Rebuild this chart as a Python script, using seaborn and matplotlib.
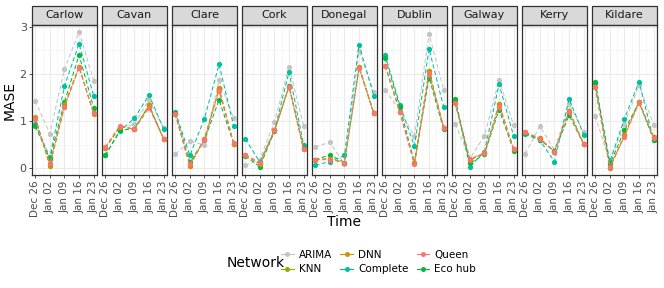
import pandas as pd
import numpy as np
import matplotlib
matplotlib.use("Agg")
import matplotlib.pyplot as plt
from matplotlib.lines import Line2D
from matplotlib.patches import Rectangle
import seaborn as sns

regions = ["Carlow", "Cavan", "Clare", "Cork", "Donegal", "Dublin", "Galway", "Kerry", "Kildare"]
dates = ["2022-12-26", "2023-01-02", "2023-01-09", "2023-01-16", "2023-01-23"]
date_labels = ["Dec 26", "Jan 02", "Jan 09", "Jan 16", "Jan 23"]

# MASE per region (rows) and week (columns)
arima = [
    [1.43, 0.73, 2.10, 2.89, 1.85],
    [0.42, 0.85, 0.93, 1.45, 0.85],
    [0.30, 0.57, 0.49, 1.87, 1.06],
    [0.06, 0.18, 0.98, 2.15, 0.90],
    [0.45, 0.55, 0.09, 2.48, 1.62],
    [1.66, 1.22, 0.68, 2.85, 1.66],
    [0.94, 0.20, 0.69, 1.87, 0.91],
    [0.31, 0.89, 0.38, 1.35, 0.77],
    [1.10, 0.14, 0.94, 1.76, 0.92],
]
knn = [
    [1.07, 0.05, 1.35, 2.15, 1.16],
    [0.42, 0.88, 0.83, 1.33, 0.61],
    [1.15, 0.05, 0.62, 1.69, 0.52],
    [0.28, 0.09, 0.80, 1.73, 0.40],
    [0.18, 0.20, 0.12, 2.15, 1.17],
    [2.17, 1.19, 0.10, 2.06, 0.86],
    [1.38, 0.17, 0.32, 1.36, 0.40],
    [0.76, 0.63, 0.35, 1.22, 0.51],
    [1.73, 0.00, 0.70, 1.41, 0.66],
]
dnn = [
    [1.08, 0.06, 1.30, 2.15, 1.15],
    [0.42, 0.88, 0.83, 1.33, 0.61],
    [1.15, 0.05, 0.62, 1.69, 0.52],
    [0.28, 0.09, 0.80, 1.73, 0.40],
    [0.18, 0.20, 0.12, 2.15, 1.17],
    [2.17, 1.19, 0.10, 2.06, 0.86],
    [1.38, 0.17, 0.32, 1.36, 0.40],
    [0.76, 0.63, 0.35, 1.22, 0.51],
    [1.73, 0.00, 0.70, 1.41, 0.66],
]
complete = [
    [0.94, 0.23, 1.74, 2.64, 1.53],
    [0.27, 0.78, 1.06, 1.55, 0.83],
    [1.20, 0.27, 1.05, 2.20, 0.89],
    [0.62, 0.13, 0.80, 2.04, 0.49],
    [0.06, 0.14, 0.27, 2.62, 1.54],
    [2.40, 1.34, 0.47, 2.53, 1.29],
    [1.42, 0.03, 0.35, 1.78, 0.68],
    [0.73, 0.59, 0.14, 1.47, 0.71],
    [1.80, 0.14, 1.05, 1.83, 0.59],
]
queen = [
    [1.05, 0.10, 1.30, 2.13, 1.17],
    [0.45, 0.90, 0.82, 1.28, 0.62],
    [1.15, 0.08, 0.60, 1.64, 0.53],
    [0.28, 0.12, 0.80, 1.73, 0.40],
    [0.18, 0.18, 0.12, 2.13, 1.17],
    [2.17, 1.20, 0.08, 2.00, 0.86],
    [1.38, 0.20, 0.32, 1.30, 0.40],
    [0.76, 0.62, 0.35, 1.20, 0.51],
    [1.72, 0.03, 0.67, 1.38, 0.65],
]
eco_hub = [
    [0.89, 0.20, 1.40, 2.40, 1.28],
    [0.27, 0.80, 0.84, 1.33, 0.62],
    [1.17, 0.13, 0.59, 1.45, 0.52],
    [0.26, 0.03, 0.78, 1.75, 0.42],
    [0.18, 0.28, 0.12, 2.13, 1.17],
    [2.33, 1.30, 0.12, 1.92, 0.82],
    [1.47, 0.10, 0.30, 1.24, 0.37],
    [0.74, 0.60, 0.36, 1.12, 0.51],
    [1.83, 0.08, 0.80, 1.40, 0.60],
]

networks = ["ARIMA", "KNN", "DNN", "Complete", "Queen", "Eco hub"]
series = [arima, knn, dnn, complete, queen, eco_hub]
palette = {"ARIMA": "#C4C4C4", "KNN": "#93AA00", "DNN": "#D39200",
           "Complete": "#00C19F", "Queen": "#F8766D", "Eco hub": "#00BA38"}
draw_order = ["ARIMA", "Complete", "Eco hub", "KNN", "DNN", "Queen"]

rows = []
for net, vals in zip(networks, series):
    for r, region in enumerate(regions):
        for d, v in zip(dates, vals[r]):
            rows.append({"Network": net, "region": region, "Time": pd.Timestamp(d), "MASE": v})
df = pd.DataFrame(rows)

fig = plt.figure(figsize=(6.64, 2.88), dpi=100)
W, H = 664, 288
left0, pw, step = 32.3, 64.3, 70.0
top, bottom = 25, 175
strip_h = 19
t0, t1 = pd.Timestamp(dates[0]), pd.Timestamp(dates[-1])
pad = (t1 - t0) * 0.05

for i, region in enumerate(regions):
    x0 = left0 + i * step
    ax = fig.add_axes([x0 / W, 1 - bottom / H, pw / W, (bottom - top) / H])
    sub = df[df["region"] == region]
    sns.lineplot(data=sub, x="Time", y="MASE", hue="Network", hue_order=draw_order,
                 palette=palette, marker="o", markersize=3.8, markeredgewidth=0,
                 linestyle=(0, (4, 2.5)), linewidth=0.75, legend=False, ax=ax, zorder=3)
    ax.set_xlim(t0 - pad, t1 + pad)
    ax.set_ylim(-0.145, 3.035)
    ax.set_facecolor("white")
    ax.set_yticks([0, 1, 2, 3])
    ax.set_yticks([0.5, 1.5, 2.5], minor=True)
    ticks = pd.to_datetime(dates)
    ax.set_xticks(ticks)
    ax.set_xticklabels(date_labels, rotation=90, fontsize=7.5, color="#4D4D4D")
    mids = ticks[:-1] + (ticks[1:] - ticks[:-1]) / 2
    ax.set_xticks(mids, minor=True)
    ax.grid(which="major", color="#EBEBEB", linewidth=0.8, zorder=0)
    ax.grid(which="minor", color="#F2F2F2", linewidth=0.45, zorder=0)
    ax.set_axisbelow(True)
    ax.tick_params(which="minor", length=0)
    ax.tick_params(which="major", length=2.5, width=0.6, color="#333333", pad=1.5)
    for s in ax.spines.values():
        s.set_color("#333333")
        s.set_linewidth(0.9)
    ax.set_xlabel("")
    ax.set_ylabel("")
    if i == 0:
        ax.set_yticklabels(["0", "1", "2", "3"], fontsize=8, color="#4D4D4D")
    else:
        ax.set_yticklabels([])
        ax.tick_params(axis="y", length=0)
    sh = strip_h / (bottom - top)
    ax.add_patch(Rectangle((0, 1), 1, sh, transform=ax.transAxes, clip_on=False,
                           facecolor="#D9D9D9", edgecolor="#333333", linewidth=0.9))
    ax.text(0.5, 1 + sh / 2, region, transform=ax.transAxes, ha="center", va="center",
            fontsize=8, color="#1A1A1A")

fig.text(10 / W, 1 - 100 / H, "MASE", rotation=90, ha="center", va="center", fontsize=10)
fig.text(344 / W, 1 - 222 / H, "Time", ha="center", va="center", fontsize=10)

handles = [Line2D([], [], color=palette[n], marker="o", markersize=3.6, markeredgewidth=0,
                  linewidth=0.8) for n in networks]
fig.text(227 / W, 1 - 263 / H, "Network", ha="left", va="center", fontsize=10)
fig.legend(handles, networks, loc="center left", bbox_to_anchor=(281 / W, 1 - 262 / H),
           ncol=3, frameon=False, fontsize=7.5, handlelength=1.2, handletextpad=0.5,
           columnspacing=0.8, labelspacing=0.45, borderaxespad=0, borderpad=0)

fig.savefig("out.png", dpi=100)
